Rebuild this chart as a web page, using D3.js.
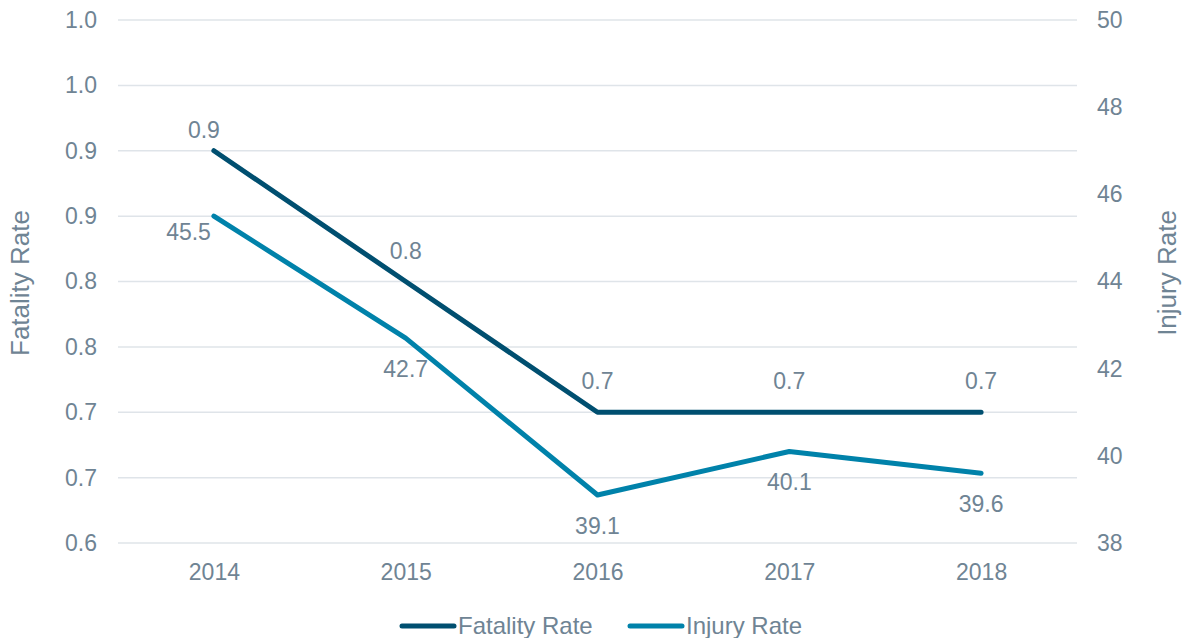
<!DOCTYPE html>
<html lang="en">
<head>
	<meta charset="utf-8">
	<title>Fatality and Injury Rate</title>
	<script src="https://d3js.org/d3.v7.min.js"></script>
	<style>
	body { margin: 0; background: #fff; }
	text {
		font-family: "Liberation Sans", Arial, sans-serif;
		fill: #6f8494;
	}
	</style>
</head>
<body>
	<script>
	// chart data
	var years = ["2014", "2015", "2016", "2017", "2018"];
	var fatalityRate = [0.9, 0.8, 0.7, 0.7, 0.7];
	var injuryRate = [45.5, 42.7, 39.1, 40.1, 39.6];

	// left axis ticks (labels as shown, one decimal)
	var leftTicks = [0.6, 0.65, 0.7, 0.75, 0.8, 0.85, 0.9, 0.95, 1.0];
	var leftTickLabels = ["0.6", "0.7", "0.7", "0.8", "0.8", "0.9", "0.9", "1.0", "1.0"];
	var rightTicks = [38, 40, 42, 44, 46, 48, 50];

	var w = 1185, h = 638;
	var plotLeft = 118, plotRight = 1077, plotTop = 20, plotBottom = 543;

	var svg = d3.select("body").append("svg")
		.attr("width", w)
		.attr("height", h);

	var x = d3.scalePoint()
		.domain(years)
		.range([plotLeft, plotRight])
		.padding(0.5);

	var yL = d3.scaleLinear().domain([0.6, 1.0]).range([plotBottom, plotTop]);
	var yR = d3.scaleLinear().domain([38, 50]).range([plotBottom, plotTop]);

	// gridlines
	svg.append("g")
		.selectAll("line")
		.data(leftTicks)
		.enter()
		.append("line")
		.attr("x1", plotLeft)
		.attr("x2", plotRight)
		.attr("y1", function(d){ return yL(d); })
		.attr("y2", function(d){ return yL(d); })
		.attr("stroke", "#dfe4e9")
		.attr("stroke-width", 1.5);

	// left axis
	var axL = svg.append("g")
		.attr("transform", "translate(" + plotLeft + ",0)")
		.call(d3.axisLeft(yL).tickValues(leftTicks).tickSize(0).tickPadding(21)
			.tickFormat(function(d, i){ return leftTickLabels[i]; }));
	axL.select(".domain").remove();

	// right axis
	var axR = svg.append("g")
		.attr("transform", "translate(" + plotRight + ",0)")
		.call(d3.axisRight(yR).tickValues(rightTicks).tickSize(0).tickPadding(20));
	axR.select(".domain").remove();

	// x axis
	var axX = svg.append("g")
		.attr("transform", "translate(0," + plotBottom + ")")
		.call(d3.axisBottom(x).tickSize(0).tickPadding(21));
	axX.select(".domain").remove();

	svg.selectAll(".tick text")
		.attr("font-size", 23)
		.attr("font-family", "Liberation Sans, Arial, sans-serif")
		.attr("fill", "#6f8494");

	// axis titles
	svg.append("text")
		.attr("text-anchor", "middle")
		.attr("font-size", 26)
		.attr("transform", "translate(29,283) rotate(-90)")
		.text("Fatality Rate");

	svg.append("text")
		.attr("text-anchor", "middle")
		.attr("font-size", 26)
		.attr("transform", "translate(1176,273) rotate(-90)")
		.text("Injury Rate");

	var fatalColor = "#004f70";
	var injuryColor = "#0082aa";

	// lines
	var lineL = d3.line()
		.x(function(d, i){ return x(years[i]); })
		.y(function(d){ return yL(d); });
	var lineR = d3.line()
		.x(function(d, i){ return x(years[i]); })
		.y(function(d){ return yR(d); });

	svg.append("path")
		.datum(injuryRate)
		.attr("d", lineR)
		.attr("fill", "none")
		.attr("stroke", injuryColor)
		.attr("stroke-width", 5)
		.attr("stroke-linecap", "round")
		.attr("stroke-linejoin", "round");

	svg.append("path")
		.datum(fatalityRate)
		.attr("d", lineL)
		.attr("fill", "none")
		.attr("stroke", fatalColor)
		.attr("stroke-width", 5)
		.attr("stroke-linecap", "round")
		.attr("stroke-linejoin", "round");

	// data labels
	svg.append("g")
		.selectAll("text")
		.data(fatalityRate)
		.enter()
		.append("text")
		.attr("text-anchor", "middle")
		.attr("font-size", 23)
		.attr("x", function(d, i){ return x(years[i]) - (i === 0 ? 10 : 0); })
		.attr("y", function(d, i){ return yL(d) - (i === 0 ? 13 : 23); })
		.text(function(d){ return d.toFixed(1); });

	svg.append("g")
		.selectAll("text")
		.data(injuryRate)
		.enter()
		.append("text")
		.attr("text-anchor", function(d, i){ return i === 0 ? "end" : "middle"; })
		.attr("font-size", 23)
		.attr("x", function(d, i){ return x(years[i]) + (i === 0 ? -3 : 0); })
		.attr("y", function(d, i){ return yR(d) + (i === 0 ? 24 : 39); })
		.text(function(d){ return d.toFixed(1); });

	// legend
	var legend = [
		{ name: "Fatality Rate", color: fatalColor, x: 402 },
		{ name: "Injury Rate", color: injuryColor, x: 630 }
	];
	var lg = svg.append("g")
		.selectAll("g")
		.data(legend)
		.enter()
		.append("g")
		.attr("transform", function(d){ return "translate(" + d.x + ",626)"; });
	lg.append("line")
		.attr("x1", 0).attr("x2", 52)
		.attr("stroke", function(d){ return d.color; })
		.attr("stroke-width", 5)
		.attr("stroke-linecap", "round");
	lg.append("text")
		.attr("x", 56)
		.attr("y", 8)
		.attr("font-size", 24)
		.text(function(d){ return d.name; });
	</script>
</body>
</html>
